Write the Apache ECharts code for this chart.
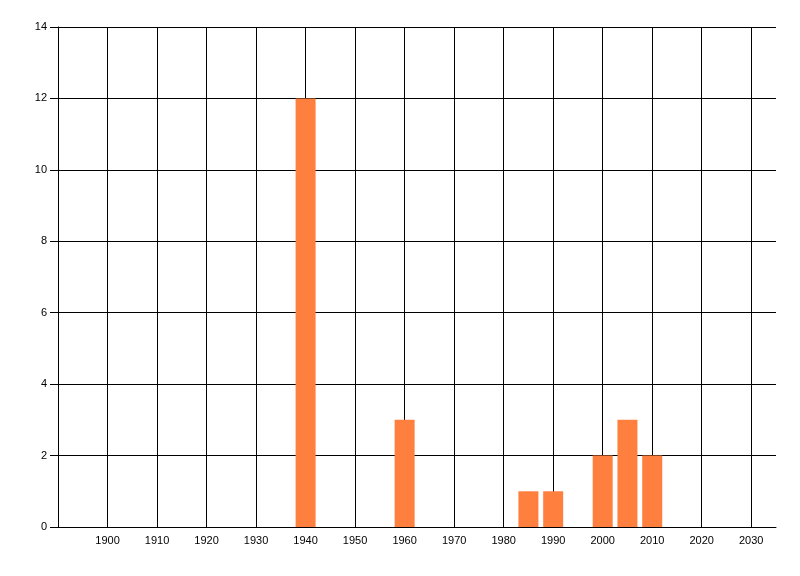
<!DOCTYPE html>
<html><head><meta charset="utf-8">
<script src="https://cdn.jsdelivr.net/npm/echarts@6/dist/echarts.min.js"></script>
<style>html,body{margin:0;padding:0;background:#fff}#c{width:800px;height:576px}</style>
</head><body><div id="c"></div>
<script>
const years = [1940, 1960, 1985, 1990, 2000, 2005, 2010];
const counts = [12, 3, 1, 1, 2, 3, 2];
const yTicks = [0, 2, 4, 6, 8, 10, 12, 14];

const chart = echarts.init(document.getElementById('c'), null, {renderer: 'canvas'});
const font = {fontFamily: 'Liberation Sans', fontSize: 11, color: '#000'};
chart.setOption({
  animation: false,
  grid: {left: 58, right: 24, top: 27, bottom: 49, containLabel: false},
  xAxis: {
    type: 'value', min: 1890, max: 2035, interval: 10,
    axisLine: {show: true, lineStyle: {color: '#000', width: 1}},
    axisTick: {show: false},
    axisLabel: Object.assign({margin: 8, showMinLabel: false, showMaxLabel: false,
      formatter: v => (v % 10 === 0 && v > 1890) ? String(v) : ''}, font),
    splitLine: {show: true, showMinLine: false, showMaxLine: false, lineStyle: {color: '#000', width: 1}}
  },
  yAxis: {
    type: 'value', min: yTicks[0], max: yTicks[yTicks.length - 1], interval: 2,
    axisLine: {show: true, lineStyle: {color: '#000', width: 1}},
    axisTick: {show: true, length: 8, lineStyle: {color: '#000'}},
    axisLabel: Object.assign({margin: 11}, font),
    splitLine: {show: true, lineStyle: {color: '#000', width: 1}}
  },
  series: [{
    type: 'bar',
    barWidth: 20,
    itemStyle: {color: '#FF7F3F'},
    data: years.map((y, i) => [y, counts[i]])
  }]
});
</script></body></html>
